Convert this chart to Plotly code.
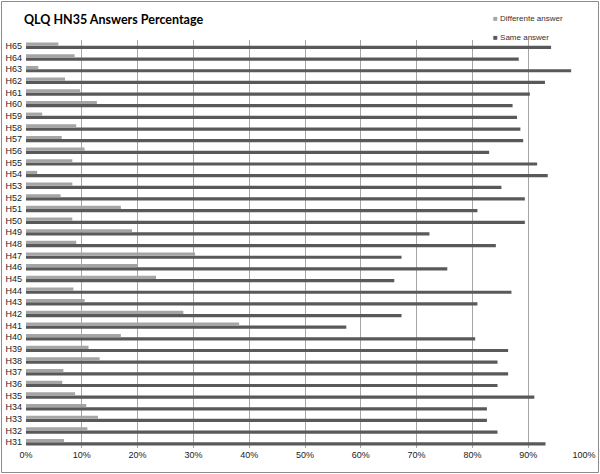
import plotly.graph_objects as go

# ================= DATA =================
questions = [f"H{n}" for n in range(31, 66)]

# percentages, H31 ... H65
different_answer = [
    6.8, 11.0, 12.9, 10.8, 8.8, 6.5, 6.7, 13.2, 11.2, 17.0,   # H31-H40
    38.2, 28.2, 10.5, 8.5, 23.3, 19.9, 30.3, 9.0, 19.0, 8.3,  # H41-H50
    17.0, 6.2, 8.3, 2.0, 8.3, 10.5, 6.4, 9.0, 2.9, 12.7,      # H51-H60
    9.7, 7.0, 2.2, 8.7, 5.8,                                  # H61-H65
]
same_answer = [
    93.1, 84.5, 82.6, 82.6, 91.1, 84.5, 86.4, 84.5, 86.4, 80.5,
    57.4, 67.3, 80.9, 87.0, 66.0, 75.5, 67.3, 84.2, 72.3, 89.4,
    80.9, 89.4, 85.2, 93.5, 91.6, 83.0, 89.1, 88.6, 88.0, 87.2,
    90.3, 93.0, 97.7, 88.3, 94.1,
]

x_ticks = list(range(0, 101, 10))
x_labels = [f"{v}%" for v in x_ticks]

LIGHT, DARK = "#A5A5A5", "#595959"

W, H = 600, 474
ML, MR, MT, MB = 26, 16, 40, 26
PW, PH = W - ML - MR, H - MT - MB

fig = go.Figure()

# dark bar goes first so it sits below the light one in each group
fig.add_trace(go.Bar(
    y=questions, x=same_answer, orientation="h",
    name="Same answer", marker=dict(color=DARK, line_width=0),
))
fig.add_trace(go.Bar(
    y=questions, x=different_answer, orientation="h",
    name="Differente answer", marker=dict(color=LIGHT, line_width=0),
))

# ================= LEGEND (small squares like the original) =================
legend_items = [("Differente answer", LIGHT, 19), ("Same answer", DARK, 37)]
annotations = [
    dict(
        text=f"<span style='color:{c}'>■</span> {name}",
        xref="paper", yref="paper",
        x=(491 - ML) / PW, y=1 + (MT - ypix) / PH,
        xanchor="left", yanchor="middle", showarrow=False,
        font=dict(family="Liberation Sans", size=8, color="#333333"),
    )
    for name, c, ypix in legend_items
]

# ================= LAYOUT =================
fig.update_layout(
    width=W, height=H,
    margin=dict(l=ML, r=MR, t=MT, b=MB),
    paper_bgcolor="white", plot_bgcolor="white",
    barmode="group", bargap=0.45, bargroupgap=0,
    showlegend=False,
    font=dict(family="Liberation Sans", size=9, color="#222222"),
    title=dict(
        text="<b>QLQ HN35 Answers Percentage</b>",
        x=24 / W, xanchor="left", y=1 - 20 / H, yanchor="middle",
        font=dict(family="Lato", size=12.5, color="black"),
    ),
    annotations=annotations,
    xaxis=dict(
        range=[0, 100], tickvals=x_ticks, ticktext=x_labels,
        showgrid=True, gridcolor="#A6A6A6", gridwidth=1,
        zeroline=False, showline=False, ticks="", automargin=False,
    ),
    yaxis=dict(
        categoryorder="array", categoryarray=questions,
        showgrid=False, zeroline=False, showline=False,
        ticks="", ticklabelstandoff=3, automargin=False,
        tickfont=dict(color="#222222"),
    ),
    shapes=[dict(
        type="rect", xref="paper", yref="paper",
        x0=-(ML - 1.5) / PW, x1=1 + (MR - 1.5) / PW,
        y0=-(MB - 1.5) / PH, y1=1 + (MT - 1.5) / PH,
        line=dict(color="#8C8C8C", width=1),
    )],
)

# drop the browser's default body margin so the chart fills the window
fig.write_html(
    "out.html",
    config={"displayModeBar": False},
    post_script="document.body.style.margin='0';",
)
